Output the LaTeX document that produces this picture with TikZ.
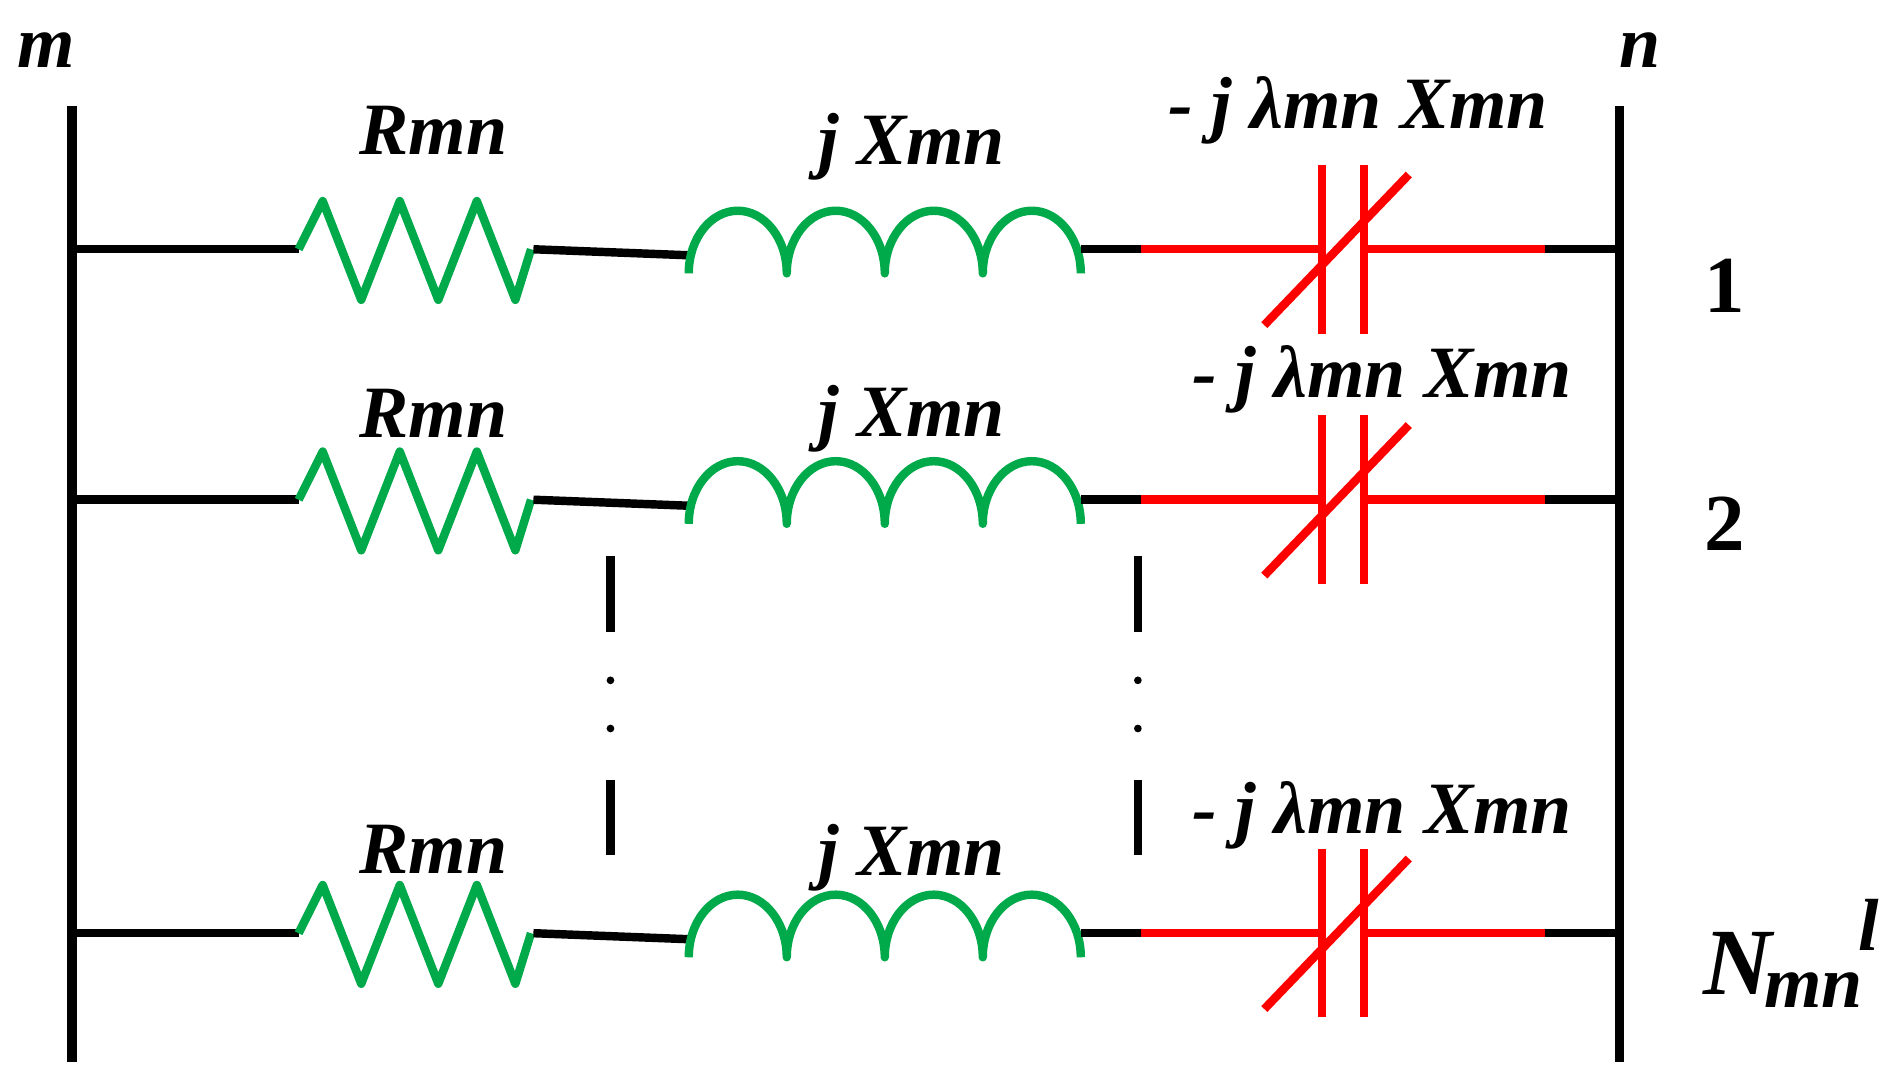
\documentclass[tikz,border=0pt]{standalone}
\usepackage{fontspec}
\setmainfont{Liberation Serif}
\usetikzlibrary{positioning}
\definecolor{resgreen}{RGB}{0,170,75}
\definecolor{capred}{RGB}{255,0,0}
\tikzset{
  x = 0.01204cm,
  y = -0.01204cm,
  wire/.style = {line width = 2.4pt, black},
  bus/.style = {line width = 2.8pt, black},
  elem/.style = {line width = 2.4pt, resgreen, line join = round},
  capwire/.style = {line width = 2.4pt, capred},
  lbl/.style = {font = \fontsize{21}{24}\selectfont\bfseries\itshape,
                inner sep = 0pt}
}

\begin{document}
\begin{tikzpicture}
\useasboundingbox (0,0) rectangle (1568,906);

% buses
\draw[bus] (60,88) -- (60,882);
\draw[bus] (1345,88) -- (1345,882);
\node[lbl](bus-m) at (38,42) {m};
\node[lbl](bus-n) at (1362,42) {n};

% branches
\foreach \y/\ry/\ly/\cx/\cy [count=\i] in {207/-99/-85/1128/-115, 415/-72/-67/1148/-100, 775/-70/-63/1148/-98}{
  \draw[wire] (60,\y) -- (248,\y);
  \draw[elem] (248,\y) -- ++(20,-40) -- ++(32,82) -- ++(32,-82) -- ++(32,82)
    -- ++(32,-82) -- ++(32,82) -- ++(13,-42);
  \draw[wire] (443,\y) -- (572,\y+5);
  \draw[elem] (572,\y+20) foreach \k in {0,1,2,3}{
    arc[start angle = 180, end angle = 360, x radius = 40.7, y radius = 52]};
  \draw[wire] (898,\y) -- (948,\y);
  \draw[capwire] (948,\y) -- (1098,\y);
  \draw[capwire] (1098,\y-70) -- (1098,\y+70);
  \draw[capwire] (1133,\y-70) -- (1133,\y+70);
  \draw[capwire] (1133,\y) -- (1283,\y);
  \draw[capwire] (1050,\y+63) -- (1170,\y-62);
  \draw[wire] (1283,\y) -- (1345,\y);
  \node[lbl](res-\i) at (360,\y+\ry) {Rmn};
  \node[lbl](ind-\i) at (757,\y+\ly) {j Xmn};
  \node[lbl](cap-\i) at (\cx,\y+\cy) {- j λmn Xmn};
}

% branch numbers
\node[lbl, font = \fontsize{23}{26}\selectfont\bfseries](num-1) at (1432,237) {1};
\node[lbl, font = \fontsize{23}{26}\selectfont\bfseries](num-2) at (1432,435) {2};
\node[lbl, font = \fontsize{27}{30}\selectfont\bfseries\itshape](num-N) at (1443,800) {N};
\node[lbl](num-mn) at (1506,822) {mn};
\node[lbl](num-l) at (1552,768) {l};

% dots
\foreach \x in {507,945}{
  \draw[line width = 2.4pt] (\x,462) -- (\x,525);
  \fill (\x,565) circle (3.2);
  \fill (\x,605) circle (3.2);
  \draw[line width = 2.4pt] (\x,648) -- (\x,710);
}

\end{tikzpicture}
\end{document}
